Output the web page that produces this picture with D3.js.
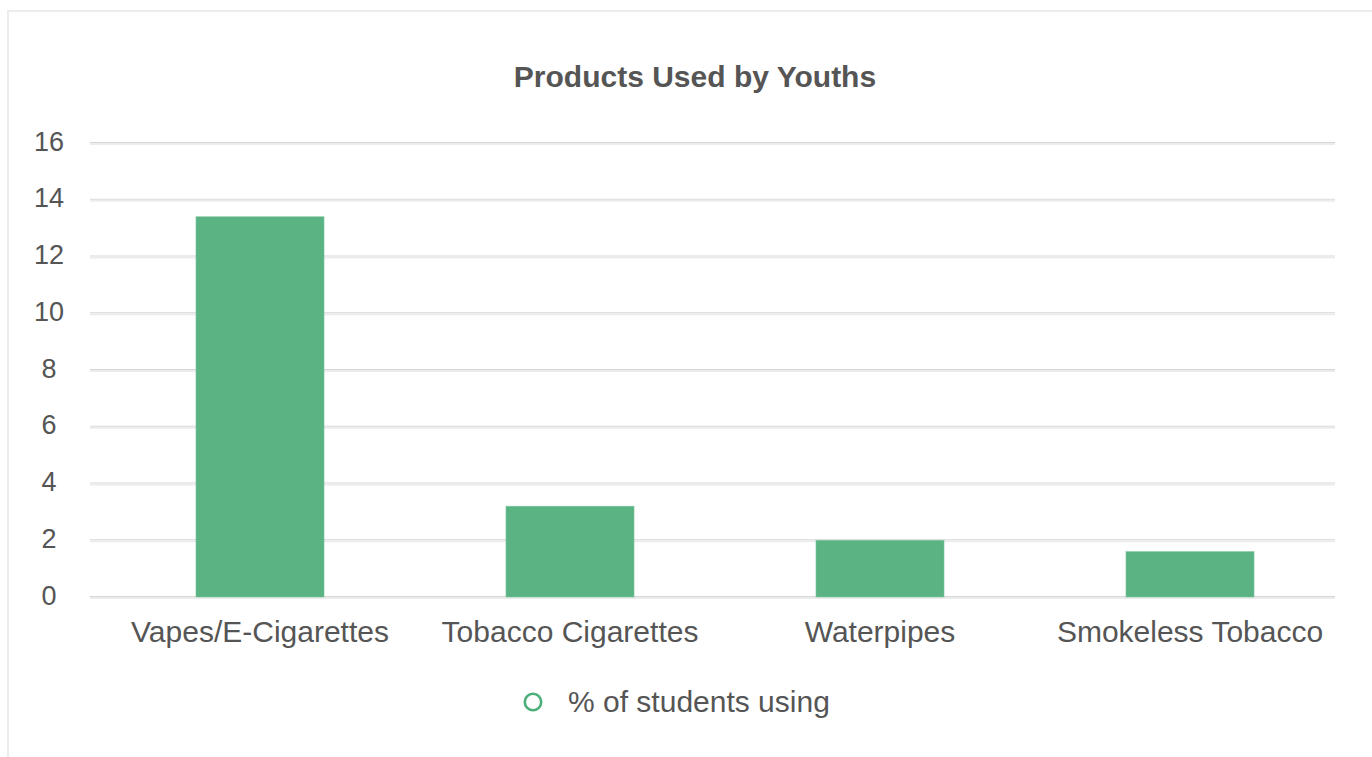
<!DOCTYPE html>
<html>
<head>
<meta charset="utf-8">
<script src="https://cdn.jsdelivr.net/npm/d3@7"></script>
<style>
  body { margin: 0; background: #fff; }
  text { font-family: "Liberation Sans", Arial, sans-serif; fill: #555; }
</style>
</head>
<body>
<svg width="1372" height="757"></svg>
<script>
var categories = ["Vapes/E-Cigarettes", "Tobacco Cigarettes", "Waterpipes", "Smokeless Tobacco"];
var values = [13.4, 3.2, 2.0, 1.6];
var yTicks = [0, 2, 4, 6, 8, 10, 12, 14, 16];
var title = "Products Used by Youths";
var seriesName = "% of students using";

var svg = d3.select("svg");
var green = "#5ab383";

// outer frame
svg.append("rect")
  .attr("x", 8).attr("y", 11)
  .attr("width", 1372).attr("height", 760)
  .attr("fill", "none")
  .attr("stroke", "#ececec")
  .attr("stroke-width", 2);

var plotLeft = 90, plotRight = 1335, plotTop = 143, plotBottom = 597;

// categories sit a little to the right of the grid area
var x = d3.scaleBand()
  .domain(categories)
  .range([105, 1345])
  .paddingInner(0.587)
  .paddingOuter(0.2935);

var y = d3.scaleLinear()
  .domain([0, 16])
  .range([plotBottom, plotTop]);

// grid lines (doubled, like the original)
var grid = svg.append("g");
grid.selectAll("line.g1")
  .data(yTicks)
  .enter()
  .append("line")
  .attr("x1", plotLeft).attr("x2", plotRight)
  .attr("y1", function(d) { return y(d) - 0.5; })
  .attr("y2", function(d) { return y(d) - 0.5; })
  .attr("stroke", "#d6d6d6")
  .attr("stroke-width", 1);
grid.selectAll("line.g2")
  .data(yTicks)
  .enter()
  .append("line")
  .attr("x1", plotLeft).attr("x2", plotRight)
  .attr("y1", function(d) { return y(d) + 1; })
  .attr("y2", function(d) { return y(d) + 1; })
  .attr("stroke", "#ececec")
  .attr("stroke-width", 2);

// y axis labels
var yAxis = svg.append("g")
  .attr("transform", "translate(49,0)")
  .call(d3.axisLeft(y).tickValues(yTicks).tickSize(0).tickPadding(0));
yAxis.select(".domain").remove();
yAxis.selectAll("text")
  .attr("text-anchor", "middle")
  .attr("dy", "0.26em")
  .style("font-family", "Liberation Sans, Arial, sans-serif")
  .style("font-size", "27px")
  .style("fill", "#555");

// bars
svg.append("g")
  .selectAll("rect")
  .data(values)
  .enter()
  .append("rect")
  .attr("x", function(d, i) { return x(categories[i]); })
  .attr("y", function(d) { return y(d); })
  .attr("width", x.bandwidth())
  .attr("height", function(d) { return y(0) - y(d); })
  .attr("fill", green)
  .attr("stroke", "#7cc79f")
  .attr("stroke-width", 0.6);

// x axis labels
var xAxis = svg.append("g")
  .attr("transform", "translate(0," + plotBottom + ")")
  .call(d3.axisBottom(x).tickSize(0).tickPadding(0));
xAxis.select(".domain").remove();
xAxis.selectAll("text")
  .attr("y", 45)
  .attr("dy", 0)
  .style("font-family", "Liberation Sans, Arial, sans-serif")
  .style("font-size", "30px")
  .style("fill", "#555");

// title
svg.append("text")
  .attr("x", 695).attr("y", 87)
  .attr("text-anchor", "middle")
  .style("font-size", "30px")
  .style("font-weight", "bold")
  .text(title);

// legend
svg.append("circle")
  .attr("cx", 533).attr("cy", 702)
  .attr("r", 8.2)
  .attr("fill", "none")
  .attr("stroke", "#4caf78")
  .attr("stroke-width", 2.6);
svg.append("text")
  .attr("x", 568).attr("y", 712)
  .style("font-size", "30px")
  .text(seriesName);
</script>
</body>
</html>
